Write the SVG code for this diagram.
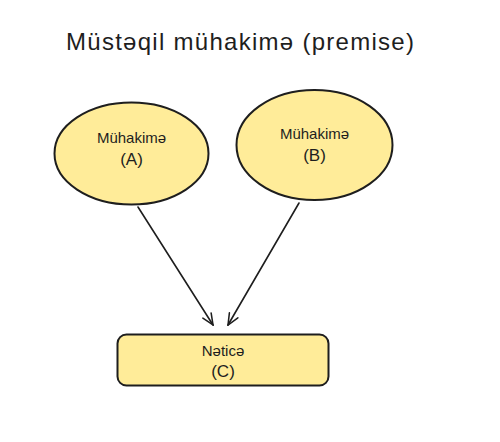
<svg xmlns="http://www.w3.org/2000/svg" width="500" height="442" viewBox="0 0 500 442">
<defs>
<style>
.n{fill:#ffec99;stroke:#1e1e1e;stroke-width:2}
.t{font-family:"Liberation Sans",Arial,sans-serif;fill:#1e1e1e;text-anchor:middle}
.c{fill:none;stroke:#1e1e1e;stroke-width:1.6;stroke-linecap:round;stroke-linejoin:round}
</style>
<marker id="ah" viewBox="0 0 20 20" refX="18" refY="10" markerWidth="14" markerHeight="14" orient="auto" markerUnits="userSpaceOnUse">
<path d="M2,3 L18,10 L2,17" fill="none" stroke="#1e1e1e" stroke-width="2.2" stroke-linecap="round"/>
</marker>
</defs>
<rect width="500" height="442" fill="#ffffff"/>
<text class="t" x="240" y="50" font-size="24" textLength="348" lengthAdjust="spacing">Müstəqil mühakimə (premise)</text>
<g id="nodeA">
<ellipse class="n" cx="131.5" cy="153.5" rx="77" ry="51"/>
<text class="t" x="131.5" y="143" font-size="15">Mühakimə</text>
<text class="t" x="131.5" y="165" font-size="17">(A)</text>
</g>
<g id="nodeB">
<ellipse class="n" cx="314.5" cy="145" rx="78" ry="55"/>
<text class="t" x="314.5" y="139" font-size="15">Mühakimə</text>
<text class="t" x="314.5" y="161" font-size="17">(B)</text>
</g>
<g id="nodeC">
<rect class="n" x="117.5" y="334.5" width="211" height="51" rx="9"/>
<text class="t" x="223" y="356" font-size="15">Nəticə</text>
<text class="t" x="223" y="377" font-size="17">(C)</text>
</g>
<g id="connectors">
<path class="c" d="M138,207 L213,325" marker-end="url(#ah)"/>
<path class="c" d="M299,203 L228,325" marker-end="url(#ah)"/>
</g>
</svg>
